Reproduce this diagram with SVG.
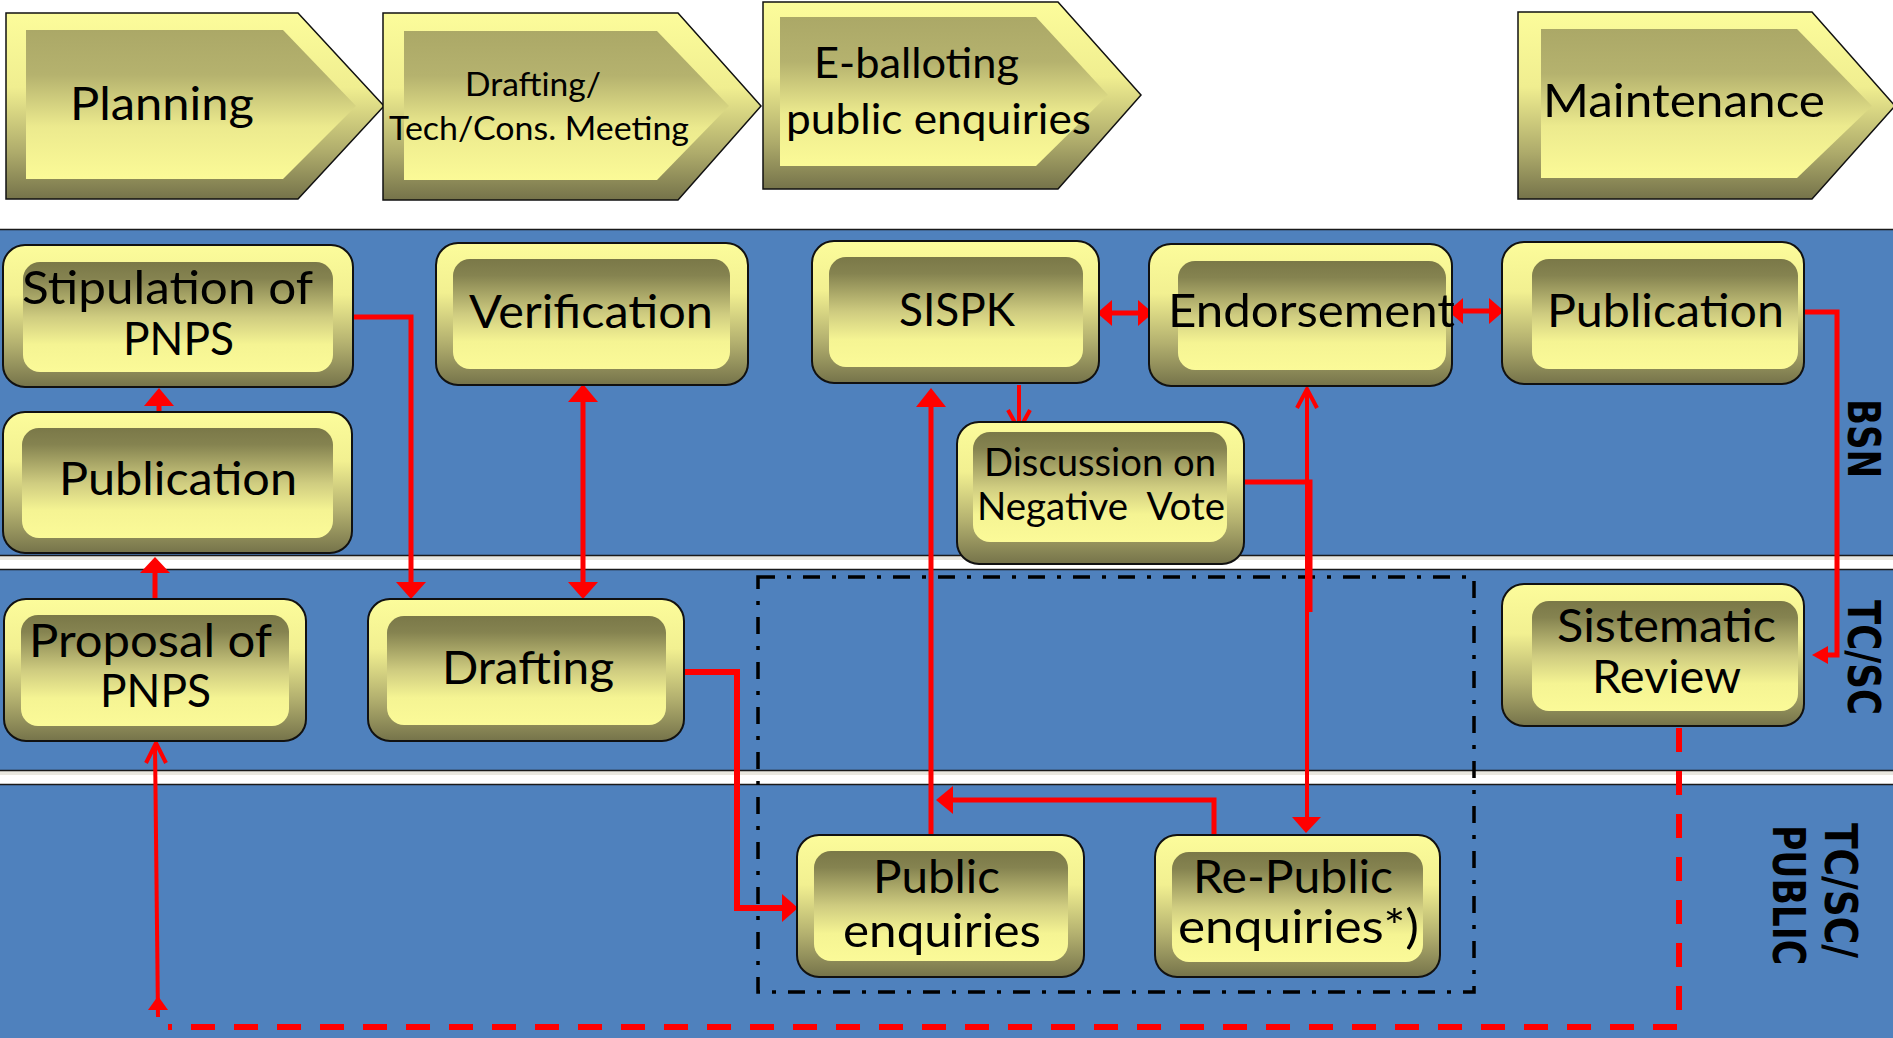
<svg xmlns="http://www.w3.org/2000/svg" width="1893" height="1038" viewBox="0 0 1893 1038">
<defs>
<linearGradient id="gOut" x1="0" y1="0" x2="0" y2="1">
<stop offset="0" stop-color="#fcfc9b"/><stop offset="0.35" stop-color="#f2f091"/><stop offset="0.7" stop-color="#b3b06f"/><stop offset="1" stop-color="#75734a"/>
</linearGradient>
<linearGradient id="gIn" x1="0" y1="0" x2="0" y2="1">
<stop offset="0" stop-color="#7a7848"/><stop offset="0.15" stop-color="#858350"/><stop offset="0.5" stop-color="#cfcc80"/><stop offset="0.75" stop-color="#f5f493"/><stop offset="1" stop-color="#fbfa98"/>
</linearGradient>
<linearGradient id="cOut" x1="0" y1="0" x2="0" y2="1">
<stop offset="0" stop-color="#fcfc9b"/><stop offset="0.4" stop-color="#f0ee90"/><stop offset="0.75" stop-color="#aeab6b"/><stop offset="1" stop-color="#75734a"/>
</linearGradient>
<linearGradient id="cIn" x1="0" y1="0" x2="0" y2="1">
<stop offset="0" stop-color="#aba867"/><stop offset="0.3" stop-color="#b5b26e"/><stop offset="0.65" stop-color="#ecea8e"/><stop offset="1" stop-color="#fbfa97"/>
</linearGradient>
<style>
.lane{fill:#4f81bd}
.bd{stroke:#1a1a1a;stroke-width:1.5}
.co{fill:url(#cOut);stroke:#111;stroke-width:1.5}
.ci{fill:url(#cIn)}
.no{fill:url(#gOut);stroke:#111;stroke-width:2}
.ni{fill:url(#gIn)}
.t{font-family:Lato,"Open Sans","Liberation Sans",sans-serif;font-size:47px;fill:#000;white-space:pre}
.m{font-size:42px}
.s{font-size:38px}
.xs{font-size:33px}
.lbl{font-family:"DejaVu Sans",Verdana,sans-serif;font-weight:bold;font-size:44px;fill:#000}
.r{stroke:#ff0000;stroke-width:5;fill:none}
.r4{stroke:#ff0000;stroke-width:4;fill:none}
.h{fill:#ff0000}
.dd{stroke:#ff0000;stroke-width:6;fill:none;stroke-dasharray:24 19}
.box{fill:none;stroke:#000;stroke-width:3.5;stroke-dasharray:17 12 4 12}
</style>
</defs>
<rect x="0" y="0" width="1893" height="1038" fill="#fff"/>
<g id="lanes">
<rect class="lane" x="0" y="229" width="1893" height="326"/>
<line class="bd" x1="0" y1="229.5" x2="1893" y2="229.5"/>
<rect x="0" y="556" width="1893" height="4" fill="#e9e7df"/>
<line class="bd" x1="0" y1="555.5" x2="1893" y2="555.5"/>
<rect class="lane" x="0" y="570" width="1893" height="200"/>
<line class="bd" x1="0" y1="569.5" x2="1893" y2="569.5"/>
<rect x="0" y="771" width="1893" height="4" fill="#e9e7df"/>
<line class="bd" x1="0" y1="770.5" x2="1893" y2="770.5"/>
<rect class="lane" x="0" y="784" width="1893" height="254"/>
<line class="bd" x1="0" y1="784.5" x2="1893" y2="784.5"/>
<text class="lbl" transform="translate(1848,399) rotate(90)" textLength="79" lengthAdjust="spacingAndGlyphs">BSN</text>
<text class="lbl" transform="translate(1848,600) rotate(90)" textLength="115" lengthAdjust="spacingAndGlyphs">TC/SC</text>
<text class="lbl" transform="translate(1825,823) rotate(90)" textLength="135" lengthAdjust="spacingAndGlyphs">TC/SC/</text>
<text class="lbl" transform="translate(1773,825) rotate(90)" textLength="140" lengthAdjust="spacingAndGlyphs">PUBLIC</text>
</g>
<g id="phase-planning">
<polygon class="co" points="6,13 298,13 384,106 298,199 6,199"/>
<polygon class="ci" points="26,30 283,30 356,106 283,179 26,179"/>
<text class="t" x="70" y="120" textLength="184" lengthAdjust="spacingAndGlyphs">Planning</text>
</g>
<g id="phase-drafting">
<polygon class="co" points="383,13 678,13 761,106 678,200 383,200"/>
<polygon class="ci" points="404,31 657,31 729,106 657,180 404,180"/>
<text class="t xs" x="465" y="96" textLength="136" lengthAdjust="spacingAndGlyphs">Drafting/</text>
<text class="t xs" x="389" y="140" textLength="300" lengthAdjust="spacingAndGlyphs">Tech/Cons. Meeting</text>
</g>
<g id="phase-eballoting">
<polygon class="co" points="763,2 1058,2 1141,95 1058,189 763,189"/>
<polygon class="ci" points="780,17 1036,17 1108,95 1036,166 780,166"/>
<text class="t m" x="814" y="78" textLength="205" lengthAdjust="spacingAndGlyphs">E-balloting</text>
<text class="t m" x="786" y="134" textLength="305" lengthAdjust="spacingAndGlyphs">public enquiries</text>
</g>
<g id="phase-maintenance">
<polygon class="co" points="1518,12 1812,12 1895,106 1812,199 1518,199"/>
<polygon class="ci" points="1541,29 1797,29 1872,106 1797,178 1541,178"/>
<text class="t" x="1543" y="117" textLength="282" lengthAdjust="spacingAndGlyphs">Maintenance</text>
</g>
<g id="box">
<rect class="box" x="758" y="577" width="716" height="415"/>
</g>
<g id="connectors">
<path class="r" d="M353,317 H411 V585"/>
<polygon class="h" points="396,582 426,582 411,599"/>
<line class="r" x1="159" y1="412" x2="159" y2="402"/>
<polygon class="h" points="144,406 174,406 159,388"/>
<line class="r" x1="155" y1="600" x2="155" y2="570"/>
<polygon class="h" points="140,573 170,573 155,557"/>
<line class="r" x1="583" y1="400" x2="583" y2="585"/>
<polygon class="h" points="568,402 598,402 583,384"/>
<polygon class="h" points="568,582 598,582 583,599"/>
<path class="r" d="M684,672 H737 V908 H786" style="stroke-width:6"/>
<polygon class="h" points="782,894 782,922 798,908"/>
<line class="r" x1="931" y1="835" x2="931" y2="404"/>
<polygon class="h" points="916,407 946,407 931,388"/>
<line class="r4" x1="1019" y1="385" x2="1019" y2="428"/>
<polyline class="r4" points="1008,410 1019,430 1030,410"/>
<line class="r" x1="1110" y1="313" x2="1140" y2="313"/>
<polygon class="h" points="1097,313 1112,300 1112,326"/>
<polygon class="h" points="1153,313 1138,300 1138,326"/>
<line class="r" x1="1461" y1="311" x2="1491" y2="311"/>
<polygon class="h" points="1448,311 1463,298 1463,324"/>
<polygon class="h" points="1504,311 1489,298 1489,324"/>
<path class="r" d="M1214,835 V800 H950"/>
<polygon class="h" points="936,800 953,786 953,814"/>
<line class="r4" x1="1307" y1="390" x2="1307" y2="820"/>
<polyline class="r4" points="1297,408 1307,389 1317,408"/>
<polygon class="h" points="1292,817 1321,817 1306,833"/>
<path class="r" d="M1244,482 H1310 V612"/>
<path class="r" d="M1805,312 H1837 V655 H1826"/>
<polygon class="h" points="1812,655 1828,646 1828,664"/>
<path class="dd" d="M1679,728 V1027 H168"/>
<line class="r4" x1="158" y1="1017" x2="155" y2="745"/>
<polyline class="r4" points="146,763 156,743 166,763"/>
<polygon class="h" points="148,1010 168,1010 158,996"/>
</g>
<g id="node-stipulation">
<rect class="no" x="3" y="245" width="350" height="142" rx="22"/>
<rect class="ni" x="23" y="262" width="310" height="110" rx="17"/>
<text class="t" x="22" y="304" textLength="291" lengthAdjust="spacingAndGlyphs">Stipulation of</text>
<text class="t" x="123" y="355" textLength="111" lengthAdjust="spacingAndGlyphs">PNPS</text>
</g>
<g id="node-publication-left">
<rect class="no" x="3" y="412" width="349" height="141" rx="22"/>
<rect class="ni" x="22" y="428" width="311" height="110" rx="17"/>
<text class="t" x="59" y="495" textLength="238" lengthAdjust="spacingAndGlyphs">Publication</text>
</g>
<g id="node-verification">
<rect class="no" x="436" y="243" width="312" height="142" rx="22"/>
<rect class="ni" x="453" y="259" width="277" height="110" rx="17"/>
<text class="t" x="469" y="328" textLength="244" lengthAdjust="spacingAndGlyphs">Verification</text>
</g>
<g id="node-sispk">
<rect class="no" x="812" y="241" width="287" height="142" rx="22"/>
<rect class="ni" x="829" y="257" width="254" height="110" rx="17"/>
<text class="t" x="899" y="326" textLength="116" lengthAdjust="spacingAndGlyphs">SISPK</text>
</g>
<g id="node-endorsement">
<rect class="no" x="1149" y="244" width="303" height="142" rx="22"/>
<rect class="ni" x="1178" y="261" width="268" height="109" rx="17"/>
<text class="t" x="1168" y="327" textLength="287" lengthAdjust="spacingAndGlyphs">Endorsement</text>
</g>
<g id="node-publication-right">
<rect class="no" x="1502" y="242" width="302" height="142" rx="22"/>
<rect class="ni" x="1532" y="259" width="266" height="110" rx="17"/>
<text class="t" x="1547" y="327" textLength="237" lengthAdjust="spacingAndGlyphs">Publication</text>
</g>
<g id="node-discussion">
<rect class="no" x="957" y="422" width="287" height="142" rx="22"/>
<rect class="ni" x="973" y="432" width="254" height="110" rx="17"/>
<text class="t s" x="984" y="476" textLength="232" lengthAdjust="spacingAndGlyphs">Discussion on</text>
<text class="t s" x="977" y="520" textLength="248" lengthAdjust="spacingAndGlyphs">Negative  Vote</text>
</g>
<g id="node-proposal">
<rect class="no" x="4" y="599" width="302" height="142" rx="22"/>
<rect class="ni" x="21" y="615" width="268" height="111" rx="17"/>
<text class="t" x="29" y="657" textLength="243" lengthAdjust="spacingAndGlyphs">Proposal of</text>
<text class="t" x="100" y="707" textLength="111" lengthAdjust="spacingAndGlyphs">PNPS</text>
</g>
<g id="node-drafting">
<rect class="no" x="368" y="599" width="316" height="142" rx="22"/>
<rect class="ni" x="387" y="616" width="279" height="109" rx="17"/>
<text class="t" x="442" y="684" textLength="172" lengthAdjust="spacingAndGlyphs">Drafting</text>
</g>
<g id="node-sistematic">
<rect class="no" x="1502" y="584" width="302" height="142" rx="22"/>
<rect class="ni" x="1532" y="601" width="266" height="110" rx="17"/>
<text class="t" x="1557" y="642" textLength="219" lengthAdjust="spacingAndGlyphs">Sistematic</text>
<text class="t" x="1592" y="693" textLength="149" lengthAdjust="spacingAndGlyphs">Review</text>
</g>
<g id="node-public-enquiries">
<rect class="no" x="797" y="835" width="287" height="142" rx="22"/>
<rect class="ni" x="814" y="851" width="254" height="110" rx="17"/>
<text class="t" x="873" y="893" textLength="127" lengthAdjust="spacingAndGlyphs">Public</text>
<text class="t" x="843" y="947" textLength="198" lengthAdjust="spacingAndGlyphs">enquiries</text>
</g>
<g id="node-re-public">
<rect class="no" x="1155" y="835" width="285" height="142" rx="22"/>
<rect class="ni" x="1172" y="852" width="251" height="110" rx="17"/>
<text class="t" x="1193" y="893" textLength="200" lengthAdjust="spacingAndGlyphs">Re-Public</text>
<text class="t" x="1178" y="943" textLength="241" lengthAdjust="spacingAndGlyphs">enquiries*)</text>
</g>
</svg>
